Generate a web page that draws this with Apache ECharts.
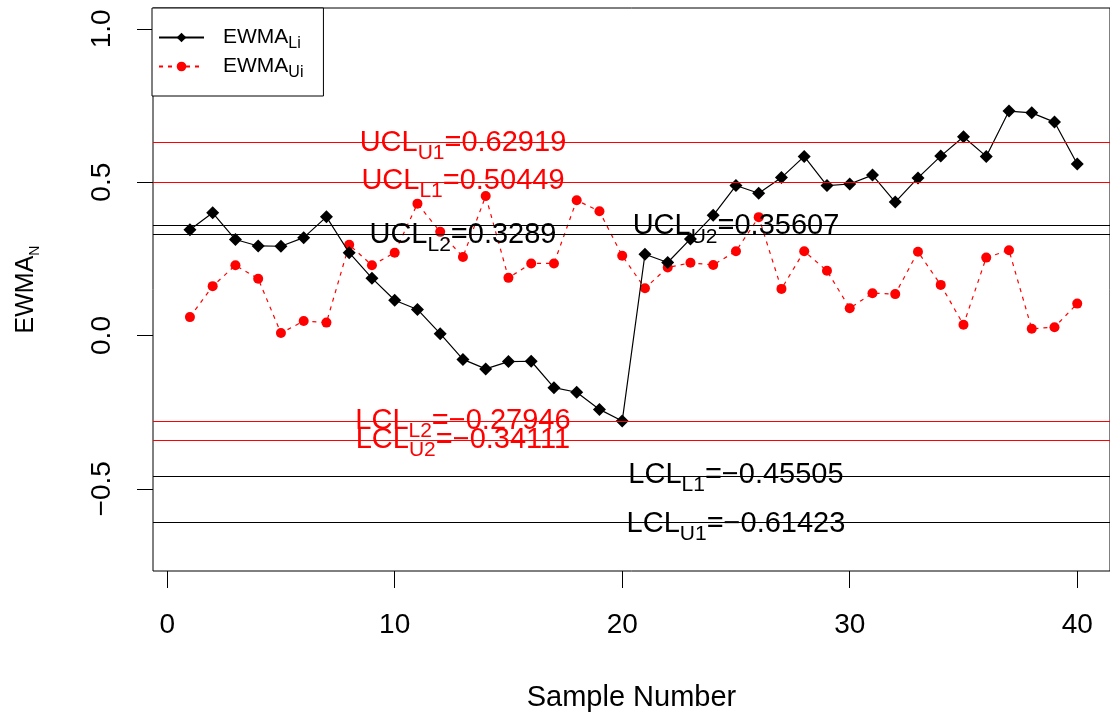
<!DOCTYPE html>
<html>
<head>
<meta charset="utf-8">
<title>EWMA chart</title>
<script src="https://cdn.jsdelivr.net/npm/echarts@6/dist/echarts.min.js"></script>
<style>
  html, body { margin: 0; padding: 0; background: #fff; }
  #chart { width: 1110px; height: 717px; }
</style>
</head>
<body>
<div id="chart"></div>
<script>
// sample numbers and the two EWMA statistics
const sampleNo = [1, 2, 3, 4, 5, 6, 7, 8, 9, 10, 11, 12, 13, 14, 15, 16, 17, 18, 19, 20,
  21, 22, 23, 24, 25, 26, 27, 28, 29, 30, 31, 32, 33, 34, 35, 36, 37, 38, 39, 40];
const ewmaL = [0.345, 0.400, 0.313, 0.292, 0.291, 0.319, 0.387, 0.270, 0.187, 0.115,
  0.085, 0.006, -0.078, -0.109, -0.085, -0.084, -0.170, -0.185, -0.241, -0.279,
  0.265, 0.238, 0.315, 0.392, 0.489, 0.464, 0.515, 0.584, 0.489, 0.494,
  0.523, 0.435, 0.514, 0.585, 0.648, 0.584, 0.732, 0.726, 0.696, 0.559];
const ewmaU = [0.060, 0.161, 0.229, 0.185, 0.008, 0.047, 0.042, 0.296, 0.229, 0.270,
  0.430, 0.338, 0.256, 0.455, 0.188, 0.235, 0.235, 0.441, 0.405, 0.260,
  0.154, 0.222, 0.237, 0.230, 0.275, 0.386, 0.152, 0.275, 0.211, 0.089,
  0.138, 0.135, 0.273, 0.165, 0.035, 0.254, 0.278, 0.022, 0.027, 0.104];

// control limits
const limitValues = [0.62919, 0.50449, 0.3289, 0.35607, -0.27946, -0.34111, -0.45505, -0.61423];
const limitKind = ['UCL', 'UCL', 'UCL', 'UCL', 'LCL', 'LCL', 'LCL', 'LCL'];
const limitSub = ['U1', 'L1', 'L2', 'U2', 'L2', 'U2', 'L1', 'U1'];
const limitText = ['0.62919', '0.50449', '0.3289', '0.35607', '\u22120.27946', '\u22120.34111', '\u22120.45505', '\u22120.61423'];

const xTicks = [0, 10, 20, 30, 40];
const yTicks = [-0.5, 0, 0.5, 1.0];
const yTickLabels = ['\u22120.5', '0.0', '0.5', '1.0'];

// styling of the limit lines / texts
const font = 'Liberation Sans';
const RED = '#ff0000';
const limitIsRed = [true, true, false, false, true, true, false, false];
const limitLabelX = [13, 13, 13, 25, 13, 13, 25, 25];

const chart = echarts.init(document.getElementById('chart'));

function pairs(ys) {
  return sampleNo.map((x, i) => [x, ys[i]]);
}

const limitRich = {
  r: { fontFamily: font, fontSize: 29, lineHeight: 30, color: RED },
  rs: { fontFamily: font, fontSize: 21, lineHeight: 21, padding: [21, 0, 0, 0], color: RED },
  k: { fontFamily: font, fontSize: 29, lineHeight: 30, color: '#000' },
  ks: { fontFamily: font, fontSize: 21, lineHeight: 21, padding: [21, 0, 0, 0], color: '#000' }
};

const limitLines = limitValues.map((v, i) => ({
  yAxis: v,
  lineStyle: { color: limitIsRed[i] ? RED : '#000', width: 1.2, type: 'solid' }
}));

const limitLabels = limitValues.map((v, i) => {
  const a = limitIsRed[i] ? 'r' : 'k';
  return {
    value: [limitLabelX[i], v],
    label: {
      formatter: '{' + a + '|' + limitKind[i] + '}{' + a + 's|' + limitSub[i] + '}{' + a + '|=' + limitText[i] + '}'
    }
  };
});

const option = {
  animation: false,
  backgroundColor: '#fff',
  grid: {
    left: 153, top: 8, right: -2, bottom: 143,
    show: true, borderColor: '#000', borderWidth: 1
  },
  legend: {
    data: ['EWMA_Li', 'EWMA_Ui'],
    orient: 'vertical',
    left: 152, top: 8,
    padding: [15, 20, 15, 6],
    itemGap: 0,
    itemWidth: 45,
    itemHeight: 12,
    borderColor: '#000',
    borderWidth: 1,
    backgroundColor: '#fff',
    borderRadius: 0,
    formatter: name => '{m|EWMA}{s|' + name.split('_')[1] + '}',
    textStyle: {
      padding: [0, 0, 0, 14],
      rich: {
        m: { fontFamily: font, fontSize: 21, lineHeight: 28, color: '#000' },
        s: { fontFamily: font, fontSize: 16, lineHeight: 15, padding: [13, 0, 0, 0], color: '#000' }
      }
    }
  },
  xAxis: {
    type: 'value',
    min: -0.623,
    max: 41.44,
    axisLine: { show: false, onZero: false },
    splitLine: { show: false },
    axisTick: { customValues: xTicks, length: 17, lineStyle: { color: '#000', width: 1 } },
    axisLabel: { customValues: xTicks, margin: 40, fontFamily: font, fontSize: 28, color: '#000' },
    name: 'Sample Number',
    nameLocation: 'middle',
    nameGap: 112,
    nameTextStyle: { fontFamily: font, fontSize: 29, color: '#000' }
  },
  yAxis: {
    type: 'value',
    min: -0.768,
    max: 1.068,
    axisLine: { show: false, onZero: false },
    splitLine: { show: false },
    axisTick: { customValues: yTicks, length: 16, lineStyle: { color: '#000', width: 1 } },
    axisLabel: {
      customValues: yTicks,
      rotate: 90,
      margin: 37,
      fontFamily: font, fontSize: 28, color: '#000',
      formatter: v => {
        const i = yTicks.findIndex(t => Math.abs(t - v) < 1e-9);
        return i >= 0 ? yTickLabels[i] : '';
      }
    },
    name: '{m|EWMA}{s|N}',
    nameLocation: 'middle',
    nameRotate: 90,
    nameGap: 114,
    nameTextStyle: {
      rich: {
        m: { fontFamily: font, fontSize: 25, lineHeight: 26, color: '#000' },
        s: { fontFamily: font, fontSize: 14, lineHeight: 14, padding: [19, 0, 0, 0], color: '#000' }
      }
    }
  },
  series: [
    {
      name: 'EWMA_Li',
      type: 'line',
      data: pairs(ewmaL),
      symbol: 'diamond',
      symbolSize: 13,
      itemStyle: { color: '#000' },
      lineStyle: { color: '#000', width: 1.2 },
      z: 4
    },
    {
      name: 'EWMA_Ui',
      type: 'line',
      data: pairs(ewmaU),
      symbol: 'circle',
      symbolSize: 10,
      itemStyle: { color: RED },
      lineStyle: { color: RED, width: 1.2, type: [4, 5] },
      z: 3
    },
    {
      name: 'limits',
      type: 'line',
      data: [],
      silent: true,
      markLine: {
        silent: true,
        symbol: ['none', 'none'],
        label: { show: false },
        data: limitLines
      },
      z: 2
    },
    {
      name: 'limitText',
      type: 'scatter',
      data: limitLabels,
      symbolSize: 1,
      silent: true,
      itemStyle: { color: 'rgba(0,0,0,0)', opacity: 1 },
      label: {
        show: true,
        position: 'inside',
        offset: [0, -7],
        rich: limitRich
      },
      labelLayout: { hideOverlap: false },
      z: 6
    }
  ]
};

chart.setOption(option);
</script>
</body>
</html>
